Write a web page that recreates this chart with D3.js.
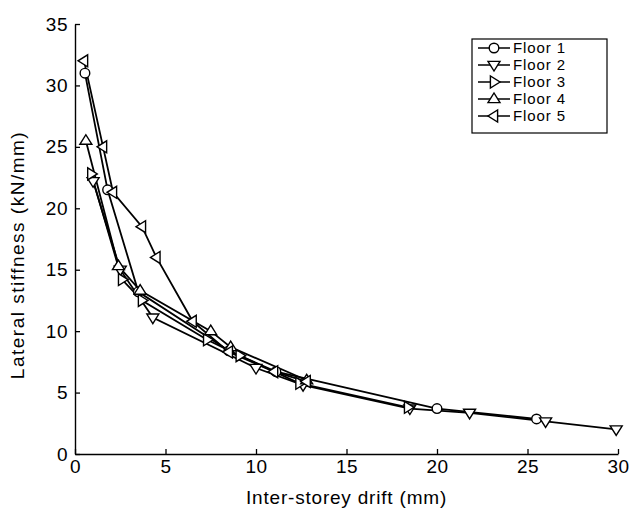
<!DOCTYPE html>
<html lang="en">
<head>
  <meta charset="UTF-8" />
  <title>Lateral stiffness vs inter-storey drift</title>
  <script src="https://cdn.jsdelivr.net/npm/d3@7"></script>
  <style>
    body { margin: 0; background: #fff; font-family: "Liberation Sans", Arial, sans-serif; }
    svg text { fill: #000; }
  </style>
</head>
<body>
  <div id="chart"></div>
  <script>
    // Data: [drift (mm), stiffness (kN/mm)]
    const floorNames = ["Floor 1", "Floor 2", "Floor 3", "Floor 4", "Floor 5"];
    const floor1 = [[0.55, 31.0], [1.8, 21.5], [3.5, 13.2], [8.5, 8.4], [11.1, 6.7], [20.0, 3.7], [25.5, 2.85]];
    const floor2 = [[1.0, 22.2], [2.5, 15.0], [4.3, 11.1], [10.0, 7.0], [12.6, 5.6], [18.5, 3.7], [21.8, 3.35], [26.0, 2.65], [29.9, 2.0]];
    const floor3 = [[0.9, 22.8], [2.6, 14.2], [3.7, 12.5], [7.3, 9.3], [9.1, 8.0], [12.4, 5.75], [18.4, 3.8]];
    const floor4 = [[0.6, 25.5], [2.4, 15.3], [3.6, 13.3], [7.5, 10.0], [8.6, 8.7], [12.8, 6.0]];
    const floor5 = [[0.5, 32.0], [1.55, 25.0], [2.1, 21.3], [3.7, 18.5], [4.5, 16.0], [6.5, 10.8], [8.5, 8.3], [11.0, 6.7], [12.8, 5.9]];
    const xTicks = [0, 5, 10, 15, 20, 25, 30];
    const yTicks = [0, 5, 10, 15, 20, 25, 30, 35];

    const series = [floor1, floor2, floor3, floor4, floor5];
    const markers = ["circle", "down", "right", "up", "left"];

    const width = 632, height = 510;
    const margin = {top: 24, right: 14, bottom: 56, left: 75};
    const w = width - margin.left - margin.right;
    const h = height - margin.top - margin.bottom;

    const svg = d3.select("#chart").append("svg")
      .attr("width", width)
      .attr("height", height);
    const g = svg.append("g")
      .attr("transform", `translate(${margin.left},${margin.top})`);

    const x = d3.scaleLinear().domain([0, 30]).range([0, w]);
    const y = d3.scaleLinear().domain([0, 35]).range([h, 0]);

    // axes, ticks pointing inward
    const xAxis = g.append("g")
      .attr("transform", `translate(0,${h})`)
      .call(d3.axisBottom(x).tickValues(xTicks).tickSizeInner(-5).tickSizeOuter(0).tickPadding(8));
    const yAxis = g.append("g")
      .call(d3.axisLeft(y).tickValues(yTicks).tickSizeInner(-5).tickSizeOuter(0).tickPadding(7));
    [xAxis, yAxis].forEach(a => {
      a.select(".domain").attr("stroke", "#000").attr("stroke-width", 1.4);
      a.selectAll(".tick line").attr("stroke", "#000").attr("stroke-width", 1.3);
      a.selectAll(".tick text")
        .attr("font-size", 19)
        .attr("letter-spacing", 0.5)
        .attr("font-family", "Liberation Sans, Arial, sans-serif");
    });
    xAxis.selectAll(".tick text").attr("dy", "0.6em");

    // axis titles
    svg.append("text")
      .attr("x", margin.left + w / 2)
      .attr("y", 504)
      .attr("text-anchor", "middle")
      .attr("font-size", 19)
      .attr("letter-spacing", 0.8)
      .text("Inter-storey drift (mm)");
    svg.append("text")
      .attr("transform", `translate(24,${margin.top + h / 2 + 16}) rotate(-90)`)
      .attr("text-anchor", "middle")
      .attr("font-size", 19)
      .attr("letter-spacing", 1.5)
      .text("Lateral stiffness (kN/mm)");

    // marker shapes
    function markerPath(type, r) {
      if (type === "down") return `M${-r},${-r * 0.6}L${r},${-r * 0.6}L0,${r}Z`;
      if (type === "up") return `M${-r},${r * 0.6}L${r},${r * 0.6}L0,${-r}Z`;
      if (type === "right") return `M${-r * 0.6},${-r}L${-r * 0.6},${r}L${r},0Z`;
      if (type === "left") return `M${r * 0.6},${-r}L${r * 0.6},${r}L${-r},0Z`;
    }
    function drawMarker(sel, type, cx, cy) {
      if (type === "circle") {
        sel.append("circle")
          .attr("cx", cx).attr("cy", cy).attr("r", 4.8)
          .attr("fill", "#fff").attr("stroke", "#000").attr("stroke-width", 1.4);
      } else {
        sel.append("path")
          .attr("transform", `translate(${cx},${cy})`)
          .attr("d", markerPath(type, 6))
          .attr("fill", "#fff").attr("stroke", "#000").attr("stroke-width", 1.4);
      }
    }

    const line = d3.line().x(d => x(d[0])).y(d => y(d[1]));

    series.forEach(data => {
      g.append("path")
        .datum(data)
        .attr("fill", "none")
        .attr("stroke", "#000")
        .attr("stroke-width", 1.8)
        .attr("d", line);
    });
    series.forEach((data, i) => {
      const mg = g.append("g");
      data.forEach(d => drawMarker(mg, markers[i], x(d[0]), y(d[1])));
    });

    // legend
    const rowH = 17;
    const lg = svg.append("g").attr("transform", "translate(472,39)");
    lg.append("rect")
      .attr("width", 135).attr("height", 9 + rowH * 5)
      .attr("fill", "#fff").attr("stroke", "#000").attr("stroke-width", 1.2);
    floorNames.forEach((name, i) => {
      const yy = 9 + i * rowH;
      lg.append("line")
        .attr("x1", 6).attr("x2", 38).attr("y1", yy).attr("y2", yy)
        .attr("stroke", "#000").attr("stroke-width", 1.5);
      drawMarker(lg, markers[i], 22, yy);
      lg.append("text")
        .attr("x", 41).attr("y", yy)
        .attr("dy", "0.36em")
        .attr("font-size", 15)
        .attr("letter-spacing", 0.9)
        .text(name);
    });
  </script>
</body>
</html>
